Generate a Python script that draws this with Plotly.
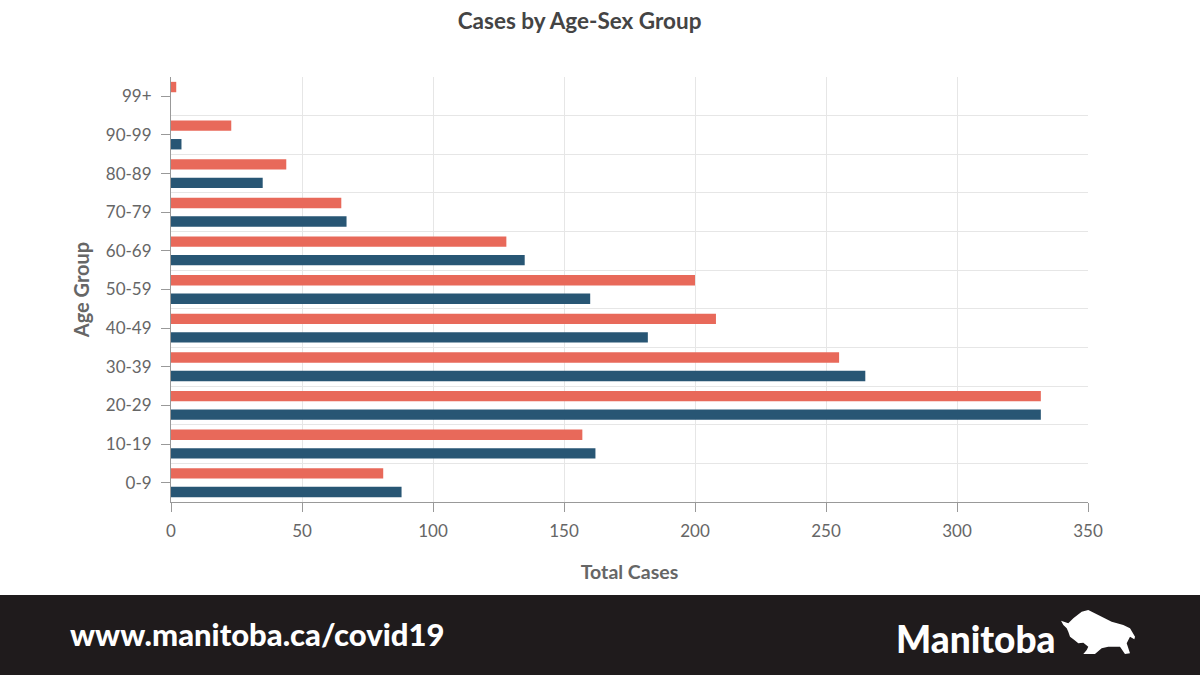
import plotly.graph_objects as go

# Cases by age group
age_groups = ["0-9", "10-19", "20-29", "30-39", "40-49", "50-59",
              "60-69", "70-79", "80-89", "90-99", "99+"]
female_cases = [81, 157, 332, 255, 208, 200, 128, 65, 44, 23, 2]
male_cases = [88, 162, 332, 265, 182, 160, 135, 67, 35, 4, 0]
x_ticks = [0, 50, 100, 150, 200, 250, 300, 350]

RED = "#e8695a"
BLUE = "#285674"
GRID = "#e6e6e6"
FONT = "Lato"

# plot area in pixels (used to place the footer decorations)
L, R, T, B = 171, 1088, 77, 502


def px_to_paper(x, y):
    return (x - L) / (R - L), (B - y) / (B - T)


def path_from_px(points):
    parts = []
    for i, (x, y) in enumerate(points):
        px, py = px_to_paper(x, y)
        parts.append(("M" if i == 0 else "L") + f"{px:.4f},{py:.4f}")
    return " ".join(parts) + " Z"


fig = go.Figure()

# blue first so it sits below the red bar in each group
fig.add_trace(go.Bar(
    name="Male", y=age_groups, x=male_cases, orientation="h",
    marker=dict(color=BLUE, line=dict(width=0)),
))
fig.add_trace(go.Bar(
    name="Female", y=age_groups, x=female_cases, orientation="h",
    marker=dict(color=RED, line=dict(width=0)),
))
# invisible helper trace on the overlay axis so its boundary grid is drawn
fig.add_trace(go.Scatter(
    x=[0], y=[0], yaxis="y2", mode="markers",
    marker=dict(opacity=0), hoverinfo="skip", showlegend=False,
))

fig.update_layout(
    width=1200,
    height=675,
    paper_bgcolor="white",
    plot_bgcolor="white",
    barmode="group",
    bargap=0.04,
    bargroupgap=0.44,
    showlegend=False,
    margin=dict(l=L, r=1200 - R, t=T, b=675 - B),
    font=dict(family=FONT, color="#666666"),
    title=dict(
        text="Cases by Age-Sex Group",
        x=0.483, xanchor="center", y=0.968, yanchor="middle",
        font=dict(family=FONT, size=22.5, color="#444444", weight=700),
    ),
    xaxis=dict(
        range=[0, 350],
        tickvals=x_ticks,
        showgrid=True, gridcolor=GRID, gridwidth=1,
        zeroline=False,
        showline=True, linecolor="#999999", linewidth=1,
        ticks="outside", ticklen=9, tickcolor="#999999",
        ticklabelstandoff=5,
        tickfont=dict(family=FONT, size=17, color="#666666"),
        title=dict(text="Total Cases", standoff=24,
                   font=dict(family=FONT, size=19.5, color="#666666", weight=700)),
    ),
    yaxis=dict(
        type="category",
        categoryorder="array", categoryarray=age_groups,
        range=[-0.5, len(age_groups) - 0.5],
        showgrid=False,
        showline=True, linecolor="#999999", linewidth=1,
        ticks="outside", ticklen=9, tickcolor="#999999",
        ticklabelstandoff=6,
        tickfont=dict(family=FONT, size=17, color="#666666"),
        title=dict(text="Age Group", standoff=10,
                   font=dict(family=FONT, size=20, color="#666666", weight=700)),
    ),
    yaxis2=dict(
        overlaying="y",
        range=[-0.5, len(age_groups) - 0.5],
        tickvals=[i - 0.5 for i in range(len(age_groups) + 1)],
        showticklabels=False, ticks="",
        showgrid=True, gridcolor=GRID, gridwidth=1,
        zeroline=False, showline=False,
    ),
)

# dark footer band
fx0, fy0 = px_to_paper(0, 595)
fx1, fy1 = px_to_paper(1200, 675)
fig.add_shape(type="rect", xref="paper", yref="paper",
              x0=fx0, y0=fy1, x1=fx1, y1=fy0,
              fillcolor="#1f1b1c", line=dict(width=0), layer="above")

ux, uy = px_to_paper(68, 634)
fig.add_annotation(text="www.manitoba.ca/covid19", xref="paper", yref="paper",
                   x=ux, y=uy, xanchor="left", yanchor="middle", showarrow=False,
                   font=dict(family=FONT, size=31, color="white", weight=900))

mx, my = px_to_paper(1058, 638)
fig.add_annotation(text="Manitoba", xref="paper", yref="paper",
                   x=mx, y=my, xanchor="right", yanchor="middle", showarrow=False,
                   font=dict(family=FONT, size=37, color="white", weight=900))

# rough bison silhouette next to the wordmark
bison = [(1061, 620.7), (1068.3, 623.3), (1073.3, 618.3), (1081.7, 611.7),
         (1088.3, 610), (1098.3, 615), (1111.7, 621.7), (1123.3, 625),
         (1130, 628.3), (1135, 636.7), (1134.3, 639.3), (1130, 636.7),
         (1126.7, 643.3), (1130, 653.3), (1125, 654), (1120, 646.7),
         (1108.3, 646.7), (1101.7, 648.3), (1095, 654), (1083.3, 654),
         (1086.7, 650), (1088.3, 646.7), (1083.3, 642.7), (1078.3, 643.3),
         (1074.3, 640), (1070, 636.7), (1068.3, 631.7), (1066.7, 628.3),
         (1063.3, 625)]
fig.add_shape(type="path", xref="paper", yref="paper",
              path=path_from_px(bison),
              fillcolor="white", line=dict(width=0), layer="above")

fig.write_html("out.html", config={"displayModeBar": False},
               post_script="document.body.style.margin='0';")
